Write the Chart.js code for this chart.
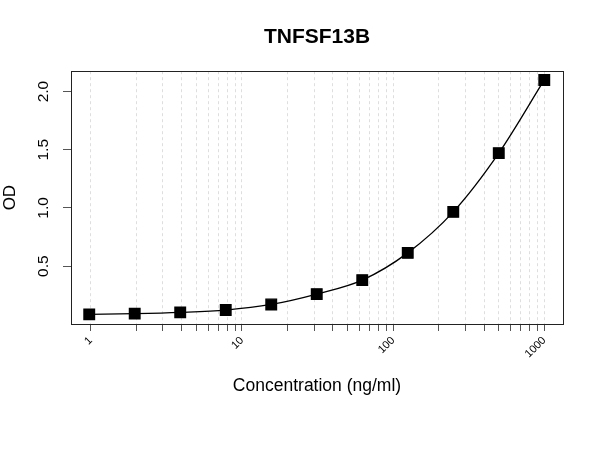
<!DOCTYPE html>
<html>
<head>
<meta charset="utf-8">
<script src="https://cdn.jsdelivr.net/npm/chart.js@4/dist/chart.umd.min.js"></script>
<style>
  html, body { margin: 0; padding: 0; background: #ffffff; }
</style>
</head>
<body>
<canvas id="myChart" width="600" height="450"></canvas>
<script>
// standard curve
const concentrations = [0.977, 1.953, 3.906, 7.813, 15.625, 31.25, 62.5, 125, 250, 500, 1000];
const odValues = [0.086, 0.092, 0.103, 0.123, 0.171, 0.26, 0.38, 0.614, 0.966, 1.471, 2.1];
const xGridValues = [1, 2, 3, 4, 5, 6, 7, 8, 9,
  10, 20, 30, 40, 50, 60, 70, 80, 90,
  100, 200, 300, 400, 500, 600, 700, 800, 900, 1000];
const xLabelValues = [1, 10, 100, 1000];
const yTickValues = [0.5, 1.0, 1.5, 2.0];

const ctx = document.getElementById("myChart");
Chart.defaults.font.family = "'Liberation Sans', Arial, sans-serif";
Chart.defaults.color = "#000";

// R style closed box round the plot
const boxPlugin = {
  id: "box",
  afterDraw(chart) {
    const a = chart.chartArea;
    const c = chart.ctx;
    c.save();
    c.strokeStyle = "#222";
    c.lineWidth = 1;
    c.strokeRect(Math.round(a.left) + 0.5, Math.round(a.top) + 0.5,
      Math.round(a.right - a.left), Math.round(a.bottom - a.top));
    c.restore();
  },
};

const points = concentrations.map((x, i) => ({ x: x, y: odValues[i] }));

const myChart = new Chart(ctx, {
  type: "line",
  data: {
    datasets: [
      {
        label: "TNFSF13B",
        data: points,
        borderColor: "#000",
        borderWidth: 1.3,
        backgroundColor: "#000",
        pointStyle: "rect",
        pointRadius: 7.5,
        pointHoverRadius: 7.5,
        cubicInterpolationMode: "monotone",
        fill: false,
      },
    ],
  },
  options: {
    responsive: false,
    animation: false,
    devicePixelRatio: 1,
    layout: { padding: { left: 0, right: 37, top: 0, bottom: 0 } },
    plugins: {
      legend: { display: false },
      tooltip: { enabled: false },
      title: {
        display: true,
        text: "TNFSF13B",
        fullSize: false,
        color: "#000",
        font: { size: 21, weight: "bold" },
        padding: { top: 24.5, bottom: 21.5 },
      },
    },
    scales: {
      x: {
        type: "logarithmic",
        min: 0.74,
        max: 1330,
        bounds: "data",
        afterBuildTicks: (s) => {
          s.ticks = xGridValues.map((v) => ({ value: v }));
        },
        afterFit: (s) => {
          s.height = 126;
        },
        ticks: {
          autoSkip: false,
          minRotation: 45,
          maxRotation: 45,
          padding: 3,
          font: { size: 11 },
          callback: (v) => (xLabelValues.includes(v) ? String(v) : ""),
        },
        grid: {
          color: "#dedede",
          tickColor: "#555",
          tickLength: 7,
          tickBorderDash: [],
        },
        border: { color: "#222", dash: [3, 3] },
        title: {
          display: true,
          text: "Concentration (ng/ml)",
          font: { size: 17.5 },
          padding: { top: 0, bottom: 53 },
        },
      },
      y: {
        type: "linear",
        min: 0.003,
        max: 2.175,
        afterBuildTicks: (s) => {
          s.ticks = yTickValues.map((v) => ({ value: v }));
        },
        afterFit: (s) => {
          s.width = 71;
        },
        ticks: {
          minRotation: 90,
          maxRotation: 90,
          crossAlign: "center",
          padding: 9,
          font: { size: 15.5 },
          callback: (v) => v.toFixed(1),
        },
        grid: {
          drawOnChartArea: false,
          tickColor: "#555",
          tickLength: 8,
        },
        border: { color: "#222" },
        title: {
          display: true,
          text: "OD",
          font: { size: 17 },
          padding: { top: 0, bottom: 0 },
        },
      },
    },
  },
  plugins: [boxPlugin],
});
</script>
</body>
</html>
